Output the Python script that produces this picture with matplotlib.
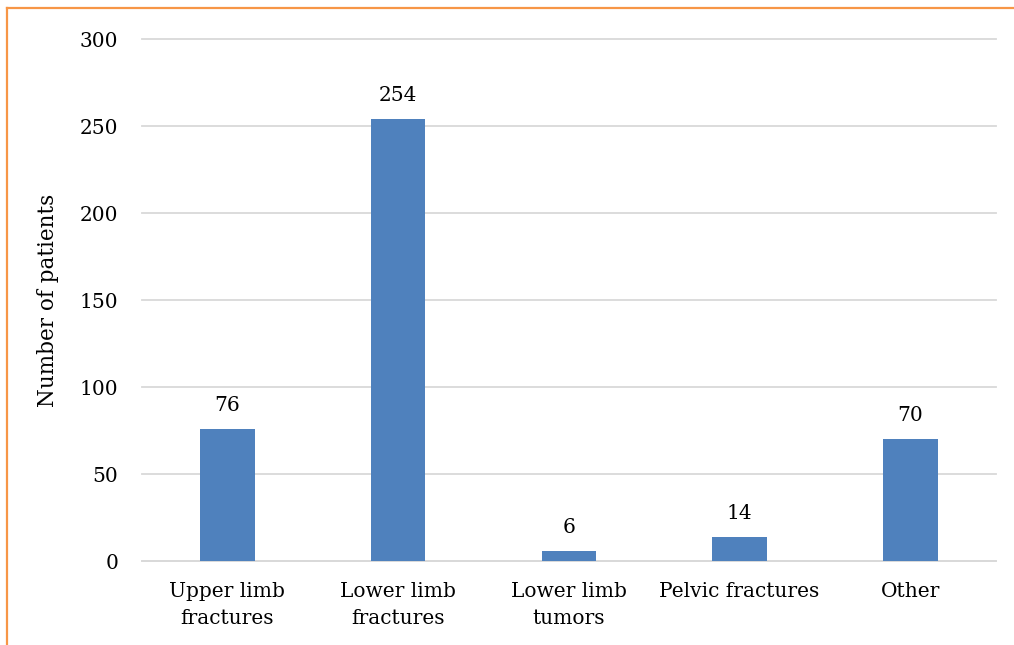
import matplotlib
matplotlib.use('Agg')
import matplotlib.pyplot as plt
from matplotlib.lines import Line2D

# --- Chart data ---
categories = ['Upper limb\nfractures', 'Lower limb\nfractures', 'Lower limb\ntumors',
              'Pelvic fractures', 'Other']
patients = [76, 254, 6, 14, 70]
y_ticks = [0, 50, 100, 150, 200, 250, 300]

BAR_COLOR = '#4f81bd'
GRID_COLOR = '#d9d9d9'
FRAME_COLOR = '#f79646'

plt.rcParams['font.family'] = ['DejaVu Serif']

fig = plt.figure(figsize=(10.14, 6.45), dpi=100)
ax = fig.add_axes([0.140, 0.130, 0.842, 0.8095])

x = range(len(categories))
ax.bar(x, patients, width=0.32, color=BAR_COLOR, zorder=3)

# value labels above each bar
for xi, val in zip(x, patients):
    ax.annotate(str(val), (xi, val), xytext=(0, 10), textcoords='offset points',
                ha='center', va='bottom', fontsize=14.5, color='#000000')

ax.set_xlim(-0.5, len(categories) - 0.5)
ax.set_ylim(0, 300)
ax.set_yticks(y_ticks)
ax.set_xticks(list(x))
ax.set_xticklabels(categories, fontsize=14.5, linespacing=1.55)
ax.tick_params(axis='y', labelsize=14.5, length=0, pad=17)
ax.tick_params(axis='x', length=0, pad=15)
ax.yaxis.grid(True, color=GRID_COLOR, linewidth=1.3, zorder=0)
for gl in ax.get_ygridlines():
    gl.set_clip_on(False)
for side in ['top', 'right', 'left']:
    ax.spines[side].set_visible(False)
ax.spines['bottom'].set_color(GRID_COLOR)
ax.spines['bottom'].set_linewidth(1.3)

ax.set_ylabel('Number of patients', fontsize=15.5, labelpad=15)

# orange outline along the top and left edge of the figure
fig.add_artist(Line2D([7 / 1014, 1.0], [1 - 8 / 645, 1 - 8 / 645],
                      transform=fig.transFigure, color=FRAME_COLOR, linewidth=1.6))
fig.add_artist(Line2D([7 / 1014, 7 / 1014], [0.0, 1 - 8 / 645],
                      transform=fig.transFigure, color=FRAME_COLOR, linewidth=1.6))

fig.savefig('out.png', dpi=100, facecolor='white')
